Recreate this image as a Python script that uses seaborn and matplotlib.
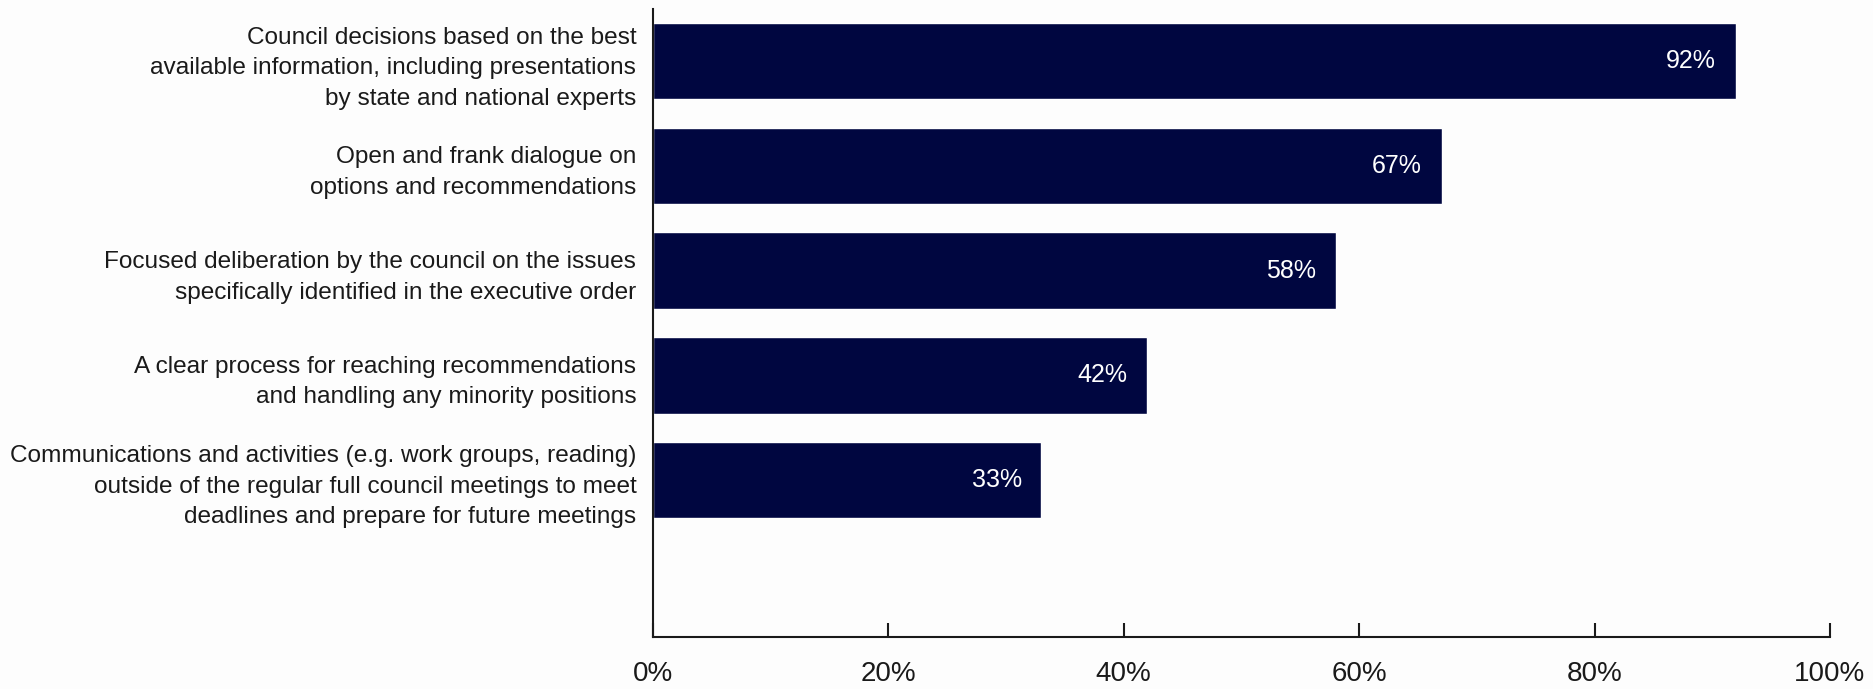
import numpy as np
import pandas as pd
import seaborn as sns
import matplotlib.pyplot as plt

categories = [
    "Council decisions based on the best\navailable information, including presentations\nby state and national experts",
    "Open and frank dialogue on\noptions and recommendations",
    "Focused deliberation by the council on the issues\nspecifically identified in the executive order",
    "A clear process for reaching recommendations\nand handling any minority positions",
    "Communications and activities (e.g. work groups, reading)\noutside of the regular full council meetings to meet\ndeadlines and prepare for future meetings",
]
values = [92, 67, 58, 42, 33]
tick_values = [0, 20, 40, 60, 80, 100]

df = pd.DataFrame({"item": categories, "pct": values})

sns.set_theme(style="white")
plt.rcParams["font.family"] = ["Liberation Sans", "DejaVu Sans"]
plt.rcParams["text.color"] = "#1a1a1a"

fig = plt.figure(figsize=(18.73, 6.89), dpi=100)
ax = fig.add_axes([0.3486, 0.0755, 0.977 - 0.3486, 0.987 - 0.0755])

sns.barplot(data=df, x="pct", y="item", color="#000640", saturation=1,
            width=0.73, ax=ax)

for i, v in enumerate(values):
    ax.text(v - 3.8, i, f"{v}%", color="white", fontsize=18,
            ha="center", va="center")

ax.set_xlim(0, 100)
ax.set_ylim(5.5, -0.5)
ax.set_xticks(tick_values)
ax.set_xticklabels([f"{t}%" for t in tick_values])
ax.set_xlabel("")
ax.set_ylabel("")
ax.tick_params(axis="x", direction="in", length=10, width=1.5, pad=17,
               labelsize=20, colors="#1a1a1a", bottom=True)
ax.tick_params(axis="y", length=0, pad=12, labelsize=17.6, colors="#1a1a1a")
for lbl in ax.get_yticklabels():
    lbl.set_horizontalalignment("right")
    lbl.set_multialignment("right")
    lbl.set_linespacing(1.5)

sns.despine(ax=ax, top=True, right=True)
for s in ["left", "bottom"]:
    ax.spines[s].set_color("#1a1a1a")
    ax.spines[s].set_linewidth(1.5)

fig.patch.set_facecolor("#fdfdfd")
ax.set_facecolor("#fdfdfd")

fig.savefig("out.png", dpi=100, facecolor=fig.get_facecolor())
